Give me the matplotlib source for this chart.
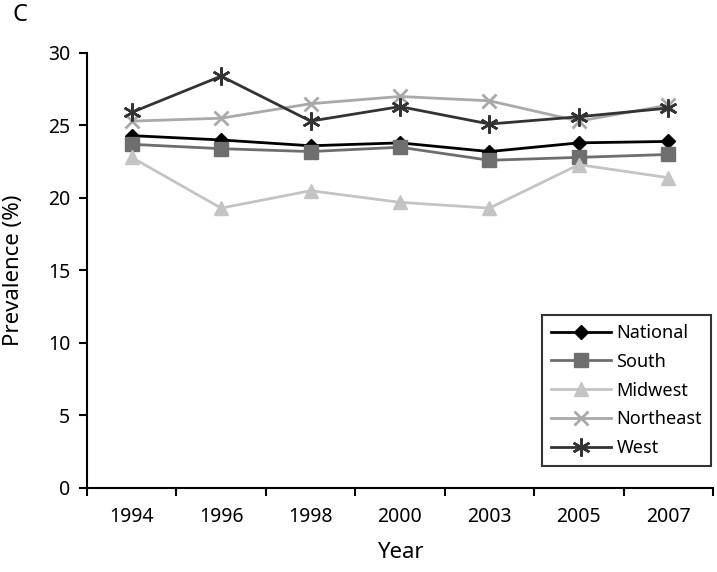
import numpy as np
import matplotlib.pyplot as plt

plt.rcParams['font.family'] = ['Noto Sans', 'DejaVu Sans']

years = ['1994', '1996', '1998', '2000', '2003', '2005', '2007']
national = [24.3, 24.0, 23.6, 23.8, 23.2, 23.8, 23.9]
south = [23.7, 23.4, 23.2, 23.5, 22.6, 22.8, 23.0]
midwest = [22.8, 19.3, 20.5, 19.7, 19.3, 22.3, 21.4]
northeast = [25.3, 25.5, 26.5, 27.0, 26.7, 25.3, 26.4]
west = [25.9, 28.4, 25.3, 26.3, 25.1, 25.6, 26.2]

fig = plt.figure(figsize=(7.17, 5.72), dpi=100)
ax = fig.add_axes([0.1213, 0.1469, 0.8731, 0.7605])

x = np.arange(len(years))
ax.plot(x, national, color='black', marker='D', ms=7, lw=2, label='National')
ax.plot(x, south, color='#6e6e6e', marker='s', ms=10, lw=2, label='South')
ax.plot(x, midwest, color='#c4c4c4', marker='^', ms=10, lw=2, label='Midwest')
ax.plot(x, northeast, color='#a9a9a9', marker='x', ms=10, mew=2, lw=2, label='Northeast')
ax.plot(x, west, color='#333333', marker=(6, 2, 0), ms=13, mew=1.8, lw=2, label='West')

ax.set_xlim(-0.5, len(years) - 0.5)
ax.set_ylim(0, 30)
ax.set_yticks(range(0, 31, 5))
ax.set_xticks(x)
ax.set_xticklabels(years)
ax.set_xticks(np.arange(-0.5, len(years), 1), minor=True)
ax.tick_params(axis='x', which='major', length=0, labelsize=14, pad=14)
ax.tick_params(axis='x', which='minor', length=6, width=1.5)
ax.tick_params(axis='y', length=6, width=1.5, labelsize=14, pad=6)

for side in ['top', 'right']:
    ax.spines[side].set_visible(False)
for side in ['left', 'bottom']:
    ax.spines[side].set_linewidth(1.5)

ax.set_xlabel('Year', fontsize=16)
ax.xaxis.set_label_coords(0.5, -0.125)
ax.set_ylabel('Prevalence (%)', fontsize=16)
ax.yaxis.set_label_coords(-0.1, 0.5)

leg = ax.legend(loc='lower right', bbox_to_anchor=(0.997, 0.05), fontsize=13,
                frameon=True, fancybox=False, edgecolor='black',
                handlelength=3.3, handletextpad=0.3, borderpad=0.5,
                labelspacing=0.6, borderaxespad=0)
leg.get_frame().set_linewidth(1.5)

fig.text(0.018, 0.974, 'C', fontsize=17, fontweight='bold', va='center')

fig.savefig('out.png', dpi=100)
